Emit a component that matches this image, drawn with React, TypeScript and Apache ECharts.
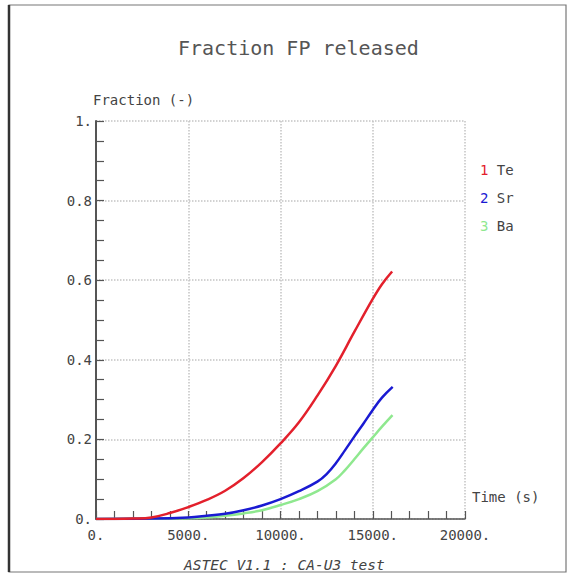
import React, { useEffect, useRef } from "react";
import * as echarts from "echarts";

const teTime = [0, 1000, 2000, 3000, 4000, 5000, 6000, 7000, 8000, 9000, 10000, 11000, 12000, 13000, 14000, 15000, 15500, 16050];
const teValues = [0, 0, 0.001, 0.004, 0.015, 0.03, 0.048, 0.071, 0.103, 0.143, 0.19, 0.243, 0.31, 0.385, 0.47, 0.553, 0.59, 0.622];

const srTime = [0, 3000, 5000, 6000, 7000, 8000, 9000, 10000, 11000, 12000, 12500, 13000, 13500, 14000, 14500, 15000, 15500, 16080];
const srValues = [0, 0.001, 0.004, 0.008, 0.013, 0.022, 0.034, 0.05, 0.07, 0.094, 0.113, 0.14, 0.173, 0.207, 0.24, 0.274, 0.305, 0.332];

const baTime = [0, 5000, 6000, 7000, 8000, 9000, 10000, 11000, 12000, 13000, 13500, 14000, 14500, 15000, 15500, 16070];
const baValues = [0, 0.002, 0.004, 0.008, 0.014, 0.022, 0.035, 0.05, 0.07, 0.1, 0.123, 0.15, 0.178, 0.205, 0.232, 0.261];

const seriesNames = ["Te", "Sr", "Ba"];
const seriesColors = ["#e3202c", "#1a1ad2", "#8fe88f"];
const yTicks = [0, 0.2, 0.4, 0.6, 0.8, 1];
const xTicks = [0, 5000, 10000, 15000, 20000];

const FONT = "DejaVu Sans Mono";

export default function App() {
  const ref = useRef<HTMLDivElement>(null);
  useEffect(() => {
    if (!ref.current) return;
    const chart = echarts.init(ref.current, undefined, { renderer: "svg" });
    const pairs = (t: number[], v: number[]) => t.map((x, i) => [x, v[i]]);
    const dataSets = [pairs(teTime, teValues), pairs(srTime, srValues), pairs(baTime, baValues)];
    chart.setOption({
      animation: false,
      backgroundColor: "#ffffff",
      title: [
        {
          text: "Fraction FP released",
          left: 173,
          top: 33,
          textStyle: { fontFamily: FONT, fontSize: 20, fontWeight: "normal", color: "#555" },
        },
        {
          text: "ASTEC V1.1 : CA-U3 test",
          left: 179,
          top: 552,
          textStyle: { fontFamily: FONT, fontSize: 14.5, fontStyle: "italic", fontWeight: "normal", color: "#444" },
        },
      ],
      graphic: [
        { type: "rect", shape: { x: 9, y: 5, width: 557, height: 567 }, style: { fill: "none", stroke: "#777", lineWidth: 1.2 } },
        { type: "line", shape: { x1: 9, y1: 5, x2: 9, y2: 572 }, style: { stroke: "#333", lineWidth: 2.5 } },
        {
          type: "text",
          x: 472,
          y: 497,
          style: { text: "Time (s)", fontFamily: FONT, fontSize: 14, fill: "#444", textAlign: "left", textVerticalAlign: "middle" },
        },
      ],
      legend: {
        orient: "vertical",
        left: 470,
        top: 158,
        icon: "none",
        itemWidth: 0,
        itemGap: 14,
        data: seriesNames,
        formatter: (name: string) => {
          const i = seriesNames.indexOf(name) + 1;
          return `{n${i}|${i}} ${name}`;
        },
        textStyle: {
          fontFamily: FONT,
          fontSize: 14,
          color: "#444",
          rich: {
            n1: { color: seriesColors[0], fontFamily: FONT, fontSize: 14 },
            n2: { color: seriesColors[1], fontFamily: FONT, fontSize: 14 },
            n3: { color: seriesColors[2], fontFamily: FONT, fontSize: 14 },
          },
        },
      },
      grid: { left: 96, top: 121, right: 105, bottom: 56, containLabel: false },
      xAxis: {
        type: "value",
        min: xTicks[0],
        max: xTicks[xTicks.length - 1],
        interval: 5000,
        axisLine: { show: true, lineStyle: { color: "#555", width: 1.5 } },
        axisTick: { show: true, inside: true, length: 8, lineStyle: { color: "#555", width: 1.2 } },
        minorTick: { show: true, splitNumber: 5, length: 8, lineStyle: { color: "#555", width: 1.2 } },
        axisLabel: {
          fontFamily: FONT,
          fontSize: 14,
          color: "#444",
          margin: 9,
          formatter: (v: number) => `${v}.`,
        },
        splitLine: { show: true, lineStyle: { color: "#c4c4c4", type: "dotted", width: 1.5 } },
      },
      yAxis: {
        type: "value",
        min: yTicks[0],
        max: yTicks[yTicks.length - 1],
        interval: 0.2,
        name: "Fraction (-)",
        nameLocation: "end",
        nameGap: 21,
        nameTextStyle: { fontFamily: FONT, fontSize: 14, color: "#444", align: "left", verticalAlign: "middle", padding: [0, 0, 0, -3] },
        axisLine: { show: true, lineStyle: { color: "#555", width: 2 } },
        axisTick: { show: true, inside: true, length: 8, lineStyle: { color: "#555", width: 1.2 } },
        minorTick: { show: true, splitNumber: 4, length: 8, lineStyle: { color: "#555", width: 1.2 } },
        axisLabel: {
          fontFamily: FONT,
          fontSize: 14,
          color: "#444",
          margin: 4,
          formatter: (v: number) => (v === 0 ? "0." : v === 1 ? "1." : v.toFixed(1)),
        },
        splitLine: { show: true, lineStyle: { color: "#c4c4c4", type: "dotted", width: 1.5 } },
      },
      series: seriesNames.map((name, i) => ({
        name,
        type: "line",
        data: dataSets[i],
        showSymbol: false,
        smooth: 0.4,
        z: 3 - i,
        lineStyle: { color: seriesColors[i], width: 2.5 },
        itemStyle: { color: seriesColors[i] },
      })),
    });
    return () => chart.dispose();
  }, []);
  return <div ref={ref} style={{ position: "absolute", left: 0, top: 0, width: 570, height: 575 }} />;
}
